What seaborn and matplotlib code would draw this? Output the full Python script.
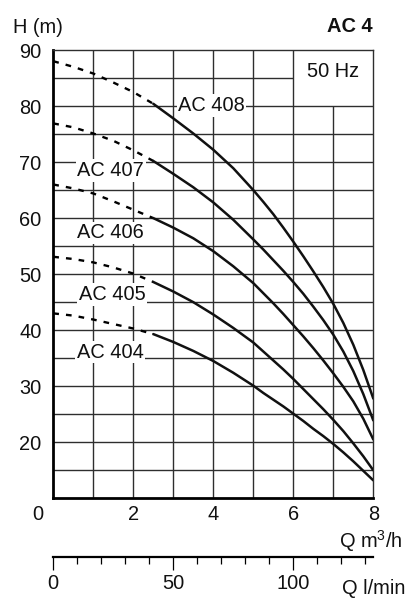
import matplotlib
matplotlib.use("Agg")
import matplotlib.pyplot as plt
from matplotlib.transforms import ScaledTranslation
from matplotlib.ticker import MultipleLocator
import numpy as np
import pandas as pd
import seaborn as sns

# Pump performance curves, series AC 4 at 50 Hz
q_dash = [0, 0.5, 1, 1.5, 2, 2.5]
q_solid = [2.5, 3, 3.5, 4, 4.5, 5, 5.25, 5.5, 5.75, 6, 6.25, 6.5, 6.75, 7, 7.25, 7.5, 7.75, 8]

models = ["AC 408", "AC 407", "AC 406", "AC 405", "AC 404"]

h_dash_408 = [88.0, 87.0, 85.8, 84.2, 82.5, 80.4]
h_solid_408 = [80.4, 77.8, 75.1, 72.2, 68.9, 65.0, 62.9, 60.7, 58.3, 55.8, 53.2, 50.5,
               47.7, 44.7, 41.3, 37.4, 32.9, 27.8]
h_dash_407 = [76.9, 76.2, 75.1, 73.8, 72.1, 70.2]
h_solid_407 = [70.2, 67.9, 65.5, 62.8, 59.7, 56.2, 54.4, 52.5, 50.6, 48.6, 46.5, 44.2,
               41.8, 39.2, 36.2, 32.7, 28.6, 23.9]
h_dash_406 = [66.0, 65.3, 64.4, 63.0, 61.5, 60.0]
h_solid_406 = [60.0, 58.3, 56.4, 54.1, 51.4, 48.4, 46.6, 44.8, 42.9, 40.9, 38.9, 36.8,
               34.6, 32.3, 29.9, 27.3, 24.2, 20.5]
h_dash_405 = [53.1, 52.7, 52.1, 51.2, 50.1, 48.6]
h_solid_405 = [48.6, 46.9, 45.0, 42.8, 40.4, 37.8, 36.2, 34.6, 33.0, 31.3, 29.5, 27.7,
               25.9, 24.0, 22.0, 19.8, 17.5, 15.0]
h_dash_404 = [43.0, 42.6, 41.9, 41.1, 40.3, 39.3]
h_solid_404 = [39.3, 37.9, 36.3, 34.5, 32.4, 30.1, 28.8, 27.6, 26.4, 25.1, 23.8, 22.4,
               21.1, 19.7, 18.2, 16.6, 14.9, 13.2]

dash_values = [h_dash_408, h_dash_407, h_dash_406, h_dash_405, h_dash_404]
solid_values = [h_solid_408, h_solid_407, h_solid_406, h_solid_405, h_solid_404]

y_ticks = [20, 30, 40, 50, 60, 70, 80, 90]
x_ticks = [0, 2, 4, 6, 8]
lmin_ticks = [0, 50, 100]

sns.set_style("white")
plt.rcParams["font.family"] = ["Liberation Sans", "DejaVu Sans"]
plt.rcParams["mathtext.fontset"] = "custom"
plt.rcParams["mathtext.rm"] = "Liberation Sans"
plt.rcParams["mathtext.default"] = "rm"

FS = 14.4
W, H = 406, 599
fig = plt.figure(figsize=(W / 100, H / 100), dpi=100)
fig.patch.set_facecolor("white")

x0, x1 = 53.3, 373.3
y_top, y_bot = 50.0, 498.3
ax = fig.add_axes([x0 / W, 1 - y_bot / H, (x1 - x0) / W, (y_bot - y_top) / H])
ax.set_xlim(0, 8)
ax.set_ylim(10, 90)

# grid, leaving the corner box for the frequency note open
grid_kw = dict(color="#2e2e2e", lw=1.0, zorder=1)
ax.vlines([1, 2, 3, 4, 5, 6], 10, 90, **grid_kw)
ax.vlines([7], 10, 80, **grid_kw)
ax.hlines(np.arange(15, 81, 5), 0, 8, **grid_kw)
ax.hlines([85], 0, 6, **grid_kw)

frames = []
for name, hd, hs in zip(models, dash_values, solid_values):
    frames.append(pd.DataFrame({"Q": q_dash, "H": hd, "model": name, "part": "dash"}))
    frames.append(pd.DataFrame({"Q": q_solid, "H": hs, "model": name, "part": "solid"}))
curves = pd.concat(frames, ignore_index=True)

for (name, part), grp in curves.groupby(["model", "part"], sort=False):
    if part == "dash":
        sns.lineplot(data=grp, x="Q", y="H", ax=ax, color="black", lw=1.7,
                     linestyle=(0, (2.4, 3.0)), errorbar=None, zorder=3)
    else:
        sns.lineplot(data=grp, x="Q", y="H", ax=ax, color="#111111", lw=1.8,
                     errorbar=None, zorder=3)

# curve labels
label_pos = {"AC 408": (3.955, 79.1), "AC 407": (1.435, 67.5), "AC 406": (1.42, 56.4),
             "AC 405": (1.47, 45.4), "AC 404": (1.42, 35.1)}
for name, (qx, hy) in label_pos.items():
    ax.text(qx, hy, name, ha="center", va="baseline", fontsize=FS, color="#111111",
            zorder=4, bbox=dict(facecolor="white", edgecolor="none", pad=1.2))

ax.text(6.99, 85.1, "50 Hz", ha="center", va="baseline", fontsize=FS, color="#111111")

for side in ["top", "right"]:
    ax.spines[side].set_color("#2e2e2e")
    ax.spines[side].set_linewidth(1.0)
for side in ["left", "bottom"]:
    ax.spines[side].set_color("black")
    ax.spines[side].set_linewidth(2.0)

ax.set_xlabel("")
ax.set_ylabel("")
ax.set_yticks(y_ticks)
ax.set_xticks(x_ticks)
ax.tick_params(axis="both", length=0, labelsize=FS, labelcolor="#111111")
ax.tick_params(axis="y", pad=8.4)
ax.tick_params(axis="x", pad=5.0)
first = ax.get_xticklabels()[0]
first.set_transform(first.get_transform() + ScaledTranslation(-0.15, 0, fig.dpi_scale_trans))

# flow axis in l/min
line_y = 556.7
ax2 = fig.add_axes([x0 / W, 1 - line_y / H, (x1 - x0) / W, 1e-5])
ax2.set_ylim(0, 1)
ax2.patch.set_alpha(0)
for side in ["top", "right", "left"]:
    ax2.spines[side].set_visible(False)
ax2.spines["bottom"].set_linewidth(1.6)
ax2.spines["bottom"].set_color("black")
ax2.set_yticks([])
ax2.set_xticks(lmin_ticks)
ax2.xaxis.set_minor_locator(MultipleLocator(10))
ax2.set_xlim(0, 8 * 1000 / 60)
ax2.tick_params(axis="x", which="both", bottom=True, top=False, direction="out",
                width=0.9, color="black")
ax2.tick_params(axis="x", which="major", length=9.4, labelsize=FS, pad=3.0,
                labelcolor="#111111")
ax2.tick_params(axis="x", which="minor", length=5.0)

# axis titles
fig.text(12.7 / W, 1 - 33.0 / H, "H (m)", ha="left", va="baseline", fontsize=FS, color="#111111")
fig.text(373 / W, 1 - 32.3 / H, "AC 4", ha="right", va="baseline", fontsize=FS,
         fontweight="bold", color="#111111")
fig.text(403 / W, 1 - 548.3 / H, r"Q m$^3$/h", ha="right", va="baseline", fontsize=FS, color="#111111")
fig.text(341.7 / W, 1 - 594.5 / H, "Q l/min", ha="left", va="baseline", fontsize=FS, color="#111111")

fig.savefig("out.png", dpi=100, facecolor="white")
